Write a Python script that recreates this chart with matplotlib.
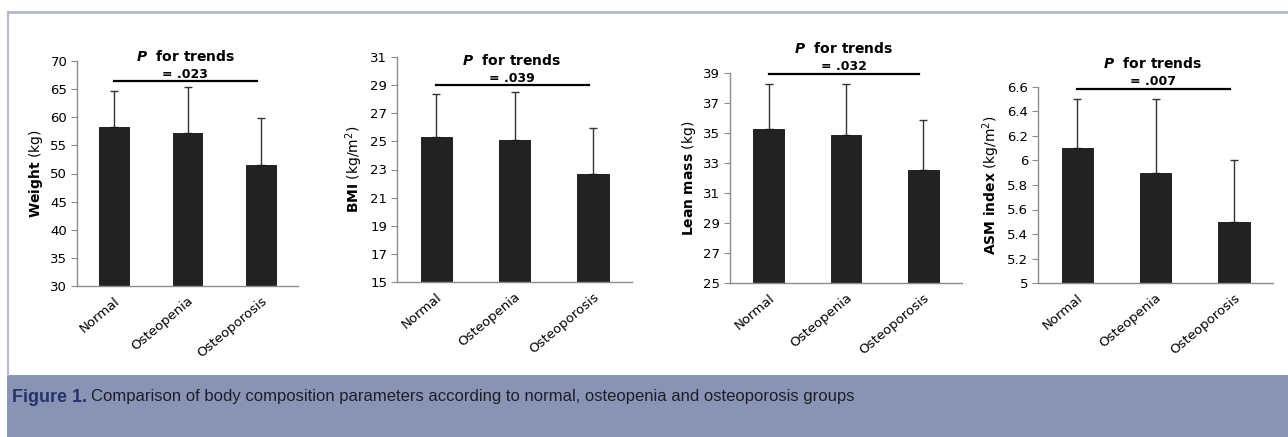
import matplotlib
matplotlib.use("Agg")
import matplotlib.pyplot as plt
from matplotlib.patches import Rectangle
from matplotlib.lines import Line2D

# group names on the x axis
groups = ["Normal", "Osteopenia", "Osteoporosis"]

# means and upper SD per panel
weight_mean = [58.3, 57.2, 51.5]
weight_sd = [6.4, 8.1, 8.3]
bmi_mean = [25.3, 25.1, 22.7]
bmi_sd = [3.1, 3.4, 3.25]
lean_mean = [35.3, 34.9, 32.55]
lean_sd = [3.0, 3.35, 3.3]
asm_mean = [6.1, 5.9, 5.5]
asm_sd = [0.4, 0.6, 0.5]

# axis setup per panel
weight_ticks = [30, 35, 40, 45, 50, 55, 60, 65, 70]
bmi_ticks = [15, 17, 19, 21, 23, 25, 27, 29, 31]
lean_ticks = [25, 27, 29, 31, 33, 35, 37, 39]
asm_ticks = [5, 5.2, 5.4, 5.6, 5.8, 6, 6.2, 6.4, 6.6]
asm_ticklabels = ["5", "5.2", "5.4", "5.6", "5.8", "6", "6.2", "6.4", "6.6"]

# p for trend values and where the bracket line sits
p_values = [".023", ".039", ".032", ".007"]
trend_y = [66.4, 29.0, 38.95, 6.585]

caption_label = "Figure 1."
caption_text = ("Comparison of body composition parameters according to normal, "
                "osteopenia and osteoporosis groups")

plt.rcParams["font.family"] = "DejaVu Sans"
plt.rcParams["mathtext.fontset"] = "dejavusans"

W, H = 1288, 437
fig = plt.figure(figsize=(W / 100, H / 100), dpi=100)

# pixel boxes (left, right, top, bottom) of each plot area
boxes = [(77, 298, 61, 286), (397, 632, 57, 282), (730, 962, 73, 283), (1038, 1273, 87, 283)]

panels = [
    (weight_mean, weight_sd, weight_ticks, None, r"$\mathbf{Weight}$ (kg)"),
    (bmi_mean, bmi_sd, bmi_ticks, None, r"$\mathbf{BMI}$ (kg/m$^2$)"),
    (lean_mean, lean_sd, lean_ticks, None, r"$\mathbf{Lean\ mass}$ (kg)"),
    (asm_mean, asm_sd, asm_ticks, asm_ticklabels, r"$\mathbf{ASM\ index}$ (kg/m$^2$)"),
]

spine_col = "#8c8c8c"
x = list(range(len(groups)))

for i, (means, sds, ticks, tlabels, ylab) in enumerate(panels):
    l, r, t, b = boxes[i]
    ax = fig.add_axes([l / W, 1 - b / H, (r - l) / W, (b - t) / H])
    ax.bar(x, means, width=0.4, color="#222222", edgecolor="#111111", linewidth=0.6, zorder=2)
    ax.errorbar(x, means, yerr=[[0] * 3, sds], fmt="none", ecolor="#333333",
                elinewidth=1.0, capsize=3, capthick=1.0, zorder=1)
    ax.set_xlim(-0.5, 2.5)
    ax.set_ylim(ticks[0], ticks[-1])
    ax.set_yticks(ticks)
    if tlabels:
        ax.set_yticklabels(tlabels)
    ax.set_xticks(x)
    ax.set_xticklabels(groups, rotation=40, ha="right", rotation_mode="anchor", fontsize=9.5)
    ax.tick_params(axis="x", length=0, pad=6)
    ax.tick_params(axis="y", labelsize=9.5, length=4, color=spine_col, pad=3)
    for s in ["top", "right"]:
        ax.spines[s].set_visible(False)
    for s in ["left", "bottom"]:
        ax.spines[s].set_color(spine_col)
        ax.spines[s].set_linewidth(1.0)
    ax.set_ylabel(ylab, fontsize=10, labelpad=4)

    # trend bracket
    ax.plot([0, 1.95], [trend_y[i], trend_y[i]], color="black", lw=1.6, clip_on=False, zorder=3)
    ax.annotate("= " + p_values[i], xy=(0.97, trend_y[i]), xytext=(0, 5), textcoords="offset points",
                ha="center", va="center", fontsize=9, fontweight="bold", annotation_clip=False)
    ax.annotate(r"$\mathbfit{P}$  for trends", xy=(0.97, trend_y[i]), xytext=(0, 18),
                textcoords="offset points", ha="center", va="center", fontsize=10,
                fontweight="bold", annotation_clip=False)

# frame and caption band
fig.add_artist(Line2D([8 / W, 1], [1 - 11.5 / H] * 2, color="#b0b9cd", lw=2.0))
fig.add_artist(Line2D([8 / W] * 2, [1 - 11.5 / H, 62 / H], color="#b0b9cd", lw=1.5))
fig.add_artist(Rectangle((7 / W, 0), 1 - 7 / W, 62 / H, transform=fig.transFigure,
                         facecolor="#8993b4", edgecolor="none"))

# caption
cap_y = 1 - 397 / H
t1 = fig.text(12 / W, cap_y, caption_label, fontsize=13, fontweight="bold",
              family="Liberation Sans", color="#26336b", va="center")
t2 = fig.text(106 / W, cap_y, caption_text, fontsize=12, family="Liberation Sans",
              color="#1e1e28", va="center")
fig.canvas.draw()
r = fig.canvas.get_renderer()
t2.set_x((t1.get_window_extent(r).x1 + 4) / W)

fig.savefig("out.png", dpi=100)
